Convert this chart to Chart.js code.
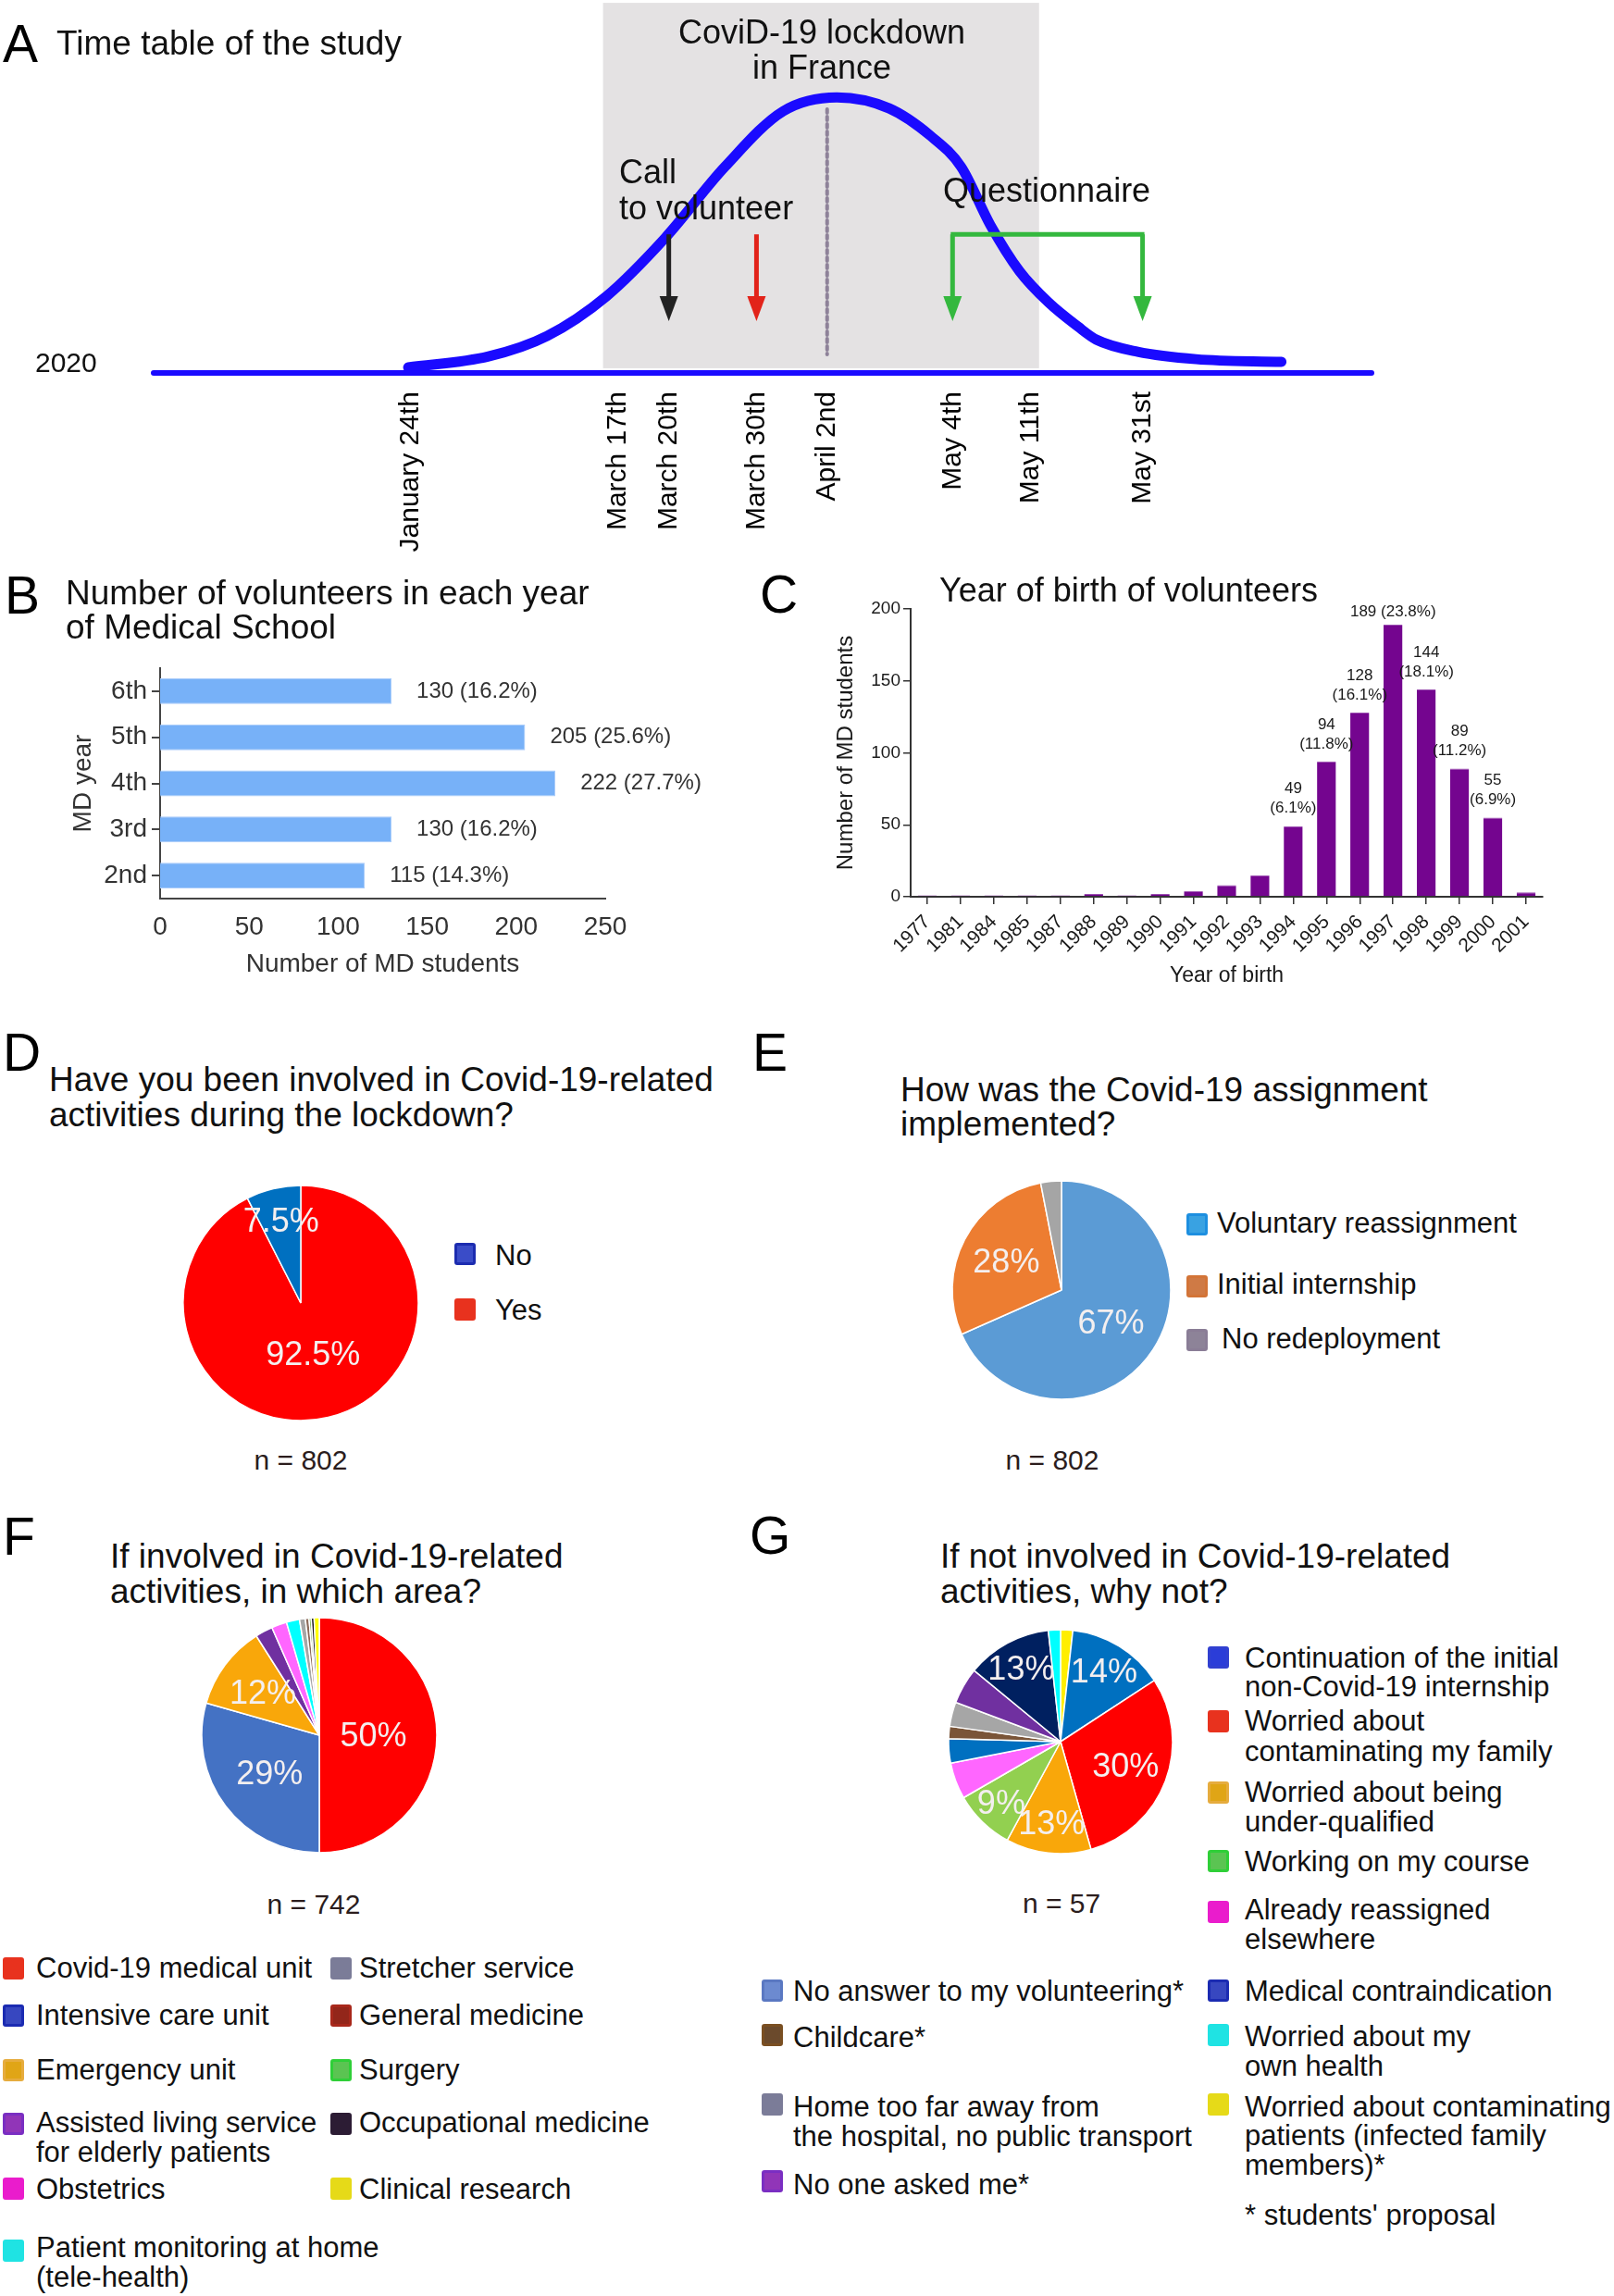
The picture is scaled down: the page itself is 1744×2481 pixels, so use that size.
<!DOCTYPE html>
<html>
<head>
<meta charset="utf-8">
<title>Covid-19 volunteers</title>
<script src="https://cdn.jsdelivr.net/npm/chart.js@4.4.1/dist/chart.umd.min.js"></script>
<style>
  html, body { margin: 0; padding: 0; background: #fff; }
  #page {
    position: relative; width: 1744px; height: 2481px; overflow: hidden;
    font-family: 'Liberation Sans', Arial, Helvetica, sans-serif; color: #111;
  }
  canvas { position: absolute; }
  .t { position: absolute; white-space: nowrap; }
  .mk { position: absolute; width: 23px; height: 24px; box-sizing: border-box; border-radius: 3px; border: 3px solid; }
</style>
</head>
<body>
<div id="page">
  <canvas id="timeline" width="1744" height="620" style="left:0;top:0"></canvas>
  <canvas id="mdYear" width="740" height="370" style="left:40px;top:700px"></canvas>
  <canvas id="birth" width="800" height="435" style="left:890px;top:640px"></canvas>
  <canvas id="pieD" width="262" height="262" style="left:194px;top:1277px"></canvas>
  <canvas id="pieE" width="242" height="242" style="left:1026px;top:1273px"></canvas>
  <canvas id="pieF" width="262" height="262" style="left:214px;top:1744px"></canvas>
  <canvas id="pieG" width="250" height="250" style="left:1021px;top:1757px"></canvas>
</div>
<script>
// ---- data ----
// A: schematic time line (x in timeline units 0-100, y = epidemic curve height)
const eventLabels = ['January 24th', 'March 17th', 'March 20th', 'March 30th', 'April 2nd', 'May 4th', 'May 11th', 'May 31st'];
const eventPos = [21.1, 38.1, 42.3, 49.5, 55.3, 65.6, 72.0, 81.2];
const lockdownSpan = [36.9, 72.7];
const curveX = [20.9, 27.5, 32.3, 37.2, 42.0, 46.9, 51.7, 56.1, 60.4, 63.8, 66.3, 68.7, 71.1, 73.5, 75.9, 77.4, 80.8, 85.6, 92.6];
const curveY = [2, 6, 13.4, 27.9, 49, 74.8, 95, 100, 96, 86, 74.8, 53.7, 36.9, 25.5, 16.8, 12.1, 7.7, 5, 4];

// B: volunteers per MD year
const mdYears = ['6th', '5th', '4th', '3rd', '2nd'];
const mdCounts = [130, 205, 222, 130, 115];
const mdShares = ['16.2%', '25.6%', '27.7%', '16.2%', '14.3%'];

// C: year of birth
const birthYears = ['1977', '1981', '1984', '1985', '1987', '1988', '1989', '1990', '1991', '1992', '1993',
  '1994', '1995', '1996', '1997', '1998', '1999', '2000', '2001'];
const birthCounts = [1, 1, 1, 1, 1, 2, 1, 2, 4, 8, 15, 49, 94, 128, 189, 144, 89, 55, 3];
const birthShares = [null, null, null, null, null, null, null, null, null, null, null,
  '6.1%', '11.8%', '16.1%', '23.8%', '18.1%', '11.2%', '6.9%', null];

// D: involved in Covid-19 activities
const involvedLabels = ['Yes', 'No'];
const involvedShares = [92.5, 7.5];
const involvedTags = ['92.5%', '7.5%'];

// E: how the assignment was implemented
const assignLabels = ['Voluntary reassignment', 'Initial internship', 'No redeployment'];
const assignShares = [67, 28, 3];
const assignTags = ['67%', '28%', ''];

// F: area of involvement (n = 742)
const areaLabels = ['Covid-19 medical unit', 'Intensive care unit', 'Emergency unit', 'Assisted living service for elderly patients',
  'Obstetrics', 'Patient monitoring at home (tele-health)', 'Stretcher service', 'General medicine', 'Surgery',
  'Occupational medicine', 'Clinical research'];
const areaShares = [50, 29.4, 11.6, 2.4, 2.1, 1.8, 0.8, 0.5, 0.3, 0.4, 0.7];
const areaTags = ['50%', '29%', '12%', '', '', '', '', '', '', '', ''];

// G: reasons for not being involved (n = 57), clockwise from the top
const reasonLabels = ['Worried about contaminating patients', 'Continuation of the initial non-Covid-19 internship',
  'Worried about contaminating my family', 'Worried about being under-qualified', 'Working on my course',
  'Already reassigned elsewhere', 'No answer to my volunteering', 'Childcare', 'Home too far away from the hospital',
  'No one asked me', 'Medical contraindication', 'Worried about my own health'];
const reasonCounts = [1, 8, 17, 7, 5, 3, 2, 1, 2, 3, 7, 1];
const reasonTags = ['', '14%', '30%', '13%', '9%', '', '', '', '', '', '13%', ''];

// ---- setup ----
const FONT = "'Liberation Sans', Arial, Helvetica, sans-serif";
Chart.defaults.font.family = FONT;
Chart.defaults.color = '#222';
const page = document.getElementById('page');

function addText(html, x, baseline, size, opts = {}) {
  const lh = opts.lh || Math.round(size * 1.1);
  const el = document.createElement('div');
  el.className = 't';
  el.innerHTML = html;
  el.style.fontSize = size + 'px';
  el.style.lineHeight = lh + 'px';
  el.style.top = (baseline - (lh / 2 + 0.3465 * size)) + 'px';
  if (opts.center) {
    el.style.left = (x - 300) + 'px';
    el.style.width = '600px';
    el.style.textAlign = 'center';
  } else {
    el.style.left = x + 'px';
  }
  el.style.color = opts.color || '#111';
  page.appendChild(el);
}

function addMarker(x, yc, border, fill) {
  const el = document.createElement('div');
  el.className = 'mk';
  el.style.left = x + 'px';
  el.style.top = (yc - 12) + 'px';
  el.style.borderColor = border;
  el.style.background = fill;
  page.appendChild(el);
}

// ---- A: time table ----
const BLUE = '#1a0aff';
const timelineDecor = {
  id: 'timelineDecor',
  beforeDatasetsDraw(chart) {
    const { ctx, scales: { x, y } } = chart;
    ctx.save();
    ctx.fillStyle = '#e4e2e3';
    const x0 = x.getPixelForValue(lockdownSpan[0]);
    const x1 = x.getPixelForValue(lockdownSpan[1]);
    const yTop = y.getPixelForValue(134.3);
    const yBot = y.getPixelForValue(1.7);
    ctx.fillRect(x0, yTop, x1 - x0, yBot - yTop);
    // April 2nd dotted marker
    const xa = x.getPixelForValue(eventPos[4]);
    ctx.strokeStyle = '#8e8299';
    ctx.lineWidth = 4;
    ctx.lineCap = 'round';
    ctx.setLineDash([4, 4]);
    ctx.beginPath();
    ctx.moveTo(xa, y.getPixelForValue(95.7));
    ctx.lineTo(xa, y.getPixelForValue(6.7));
    ctx.stroke();
    ctx.restore();
  },
  afterDatasetsDraw(chart) {
    const { ctx, scales: { x, y } } = chart;
    const yStart = y.getPixelForValue(50.3);
    const yTip = y.getPixelForValue(18.8);
    function arrow(pos, color) {
      const px = x.getPixelForValue(pos);
      ctx.strokeStyle = color;
      ctx.fillStyle = color;
      ctx.lineWidth = 5;
      ctx.beginPath();
      ctx.moveTo(px, yStart);
      ctx.lineTo(px, yTip - 20);
      ctx.stroke();
      ctx.beginPath();
      ctx.moveTo(px - 10, yTip - 27);
      ctx.lineTo(px + 10, yTip - 27);
      ctx.lineTo(px, yTip);
      ctx.closePath();
      ctx.fill();
    }
    ctx.save();
    ctx.lineCap = 'butt';
    arrow(eventPos[2], '#222');
    arrow(eventPos[3], '#e2231a');
    arrow(eventPos[5], '#34b83e');
    arrow(eventPos[7], '#34b83e');
    ctx.strokeStyle = '#34b83e';
    ctx.lineWidth = 5;
    ctx.beginPath();
    ctx.moveTo(x.getPixelForValue(eventPos[5]) - 2, yStart);
    ctx.lineTo(x.getPixelForValue(eventPos[7]) + 2, yStart);
    ctx.stroke();
    ctx.restore();
  }
};

new Chart(document.getElementById('timeline'), {
  type: 'line',
  data: {
    datasets: [
      { data: [{ x: 0, y: 0 }, { x: 100, y: 0 }], borderColor: BLUE, borderWidth: 6, pointRadius: 0,
        borderCapStyle: 'round', clip: false },
      { data: curveX.map((v, i) => ({ x: v, y: curveY[i] })), borderColor: BLUE, borderWidth: 11, pointRadius: 0,
        cubicInterpolationMode: 'monotone', borderCapStyle: 'round', clip: false }
    ]
  },
  options: {
    responsive: false, animation: false, devicePixelRatio: 1,
    layout: { padding: { left: 166, right: 262, top: 1, bottom: 0 } },
    plugins: { legend: { display: false }, tooltip: { enabled: false } },
    scales: {
      x: {
        type: 'linear', min: 0, max: 100,
        afterBuildTicks: s => { s.ticks = eventPos.map(v => ({ value: v })); },
        afterFit: s => { s.height = 217; },
        grid: { display: false, drawTicks: false },
        border: { display: false },
        ticks: { autoSkip: false, minRotation: 90, maxRotation: 90, padding: 20, color: '#000',
          font: { size: 30 }, callback: (v, i) => eventLabels[i] }
      },
      y: { type: 'linear', min: 0, max: 135, display: false }
    }
  },
  plugins: [timelineDecor]
});

// ---- B: MD year ----
const mdValueLabels = {
  id: 'mdValueLabels',
  afterDatasetsDraw(chart) {
    const ctx = chart.ctx;
    ctx.save();
    ctx.font = '24px ' + FONT;
    ctx.fillStyle = '#333';
    ctx.textAlign = 'left';
    ctx.textBaseline = 'middle';
    chart.getDatasetMeta(0).data.forEach((bar, i) => {
      ctx.fillText(mdCounts[i] + ' (' + mdShares[i] + ')', bar.x + 27, bar.y);
    });
    ctx.restore();
  }
};

new Chart(document.getElementById('mdYear'), {
  type: 'bar',
  data: {
    labels: mdYears,
    datasets: [{ data: mdCounts, backgroundColor: '#77b1f8', borderColor: '#a8cbfa', borderWidth: 1,
      barPercentage: 0.56, categoryPercentage: 1 }]
  },
  options: {
    indexAxis: 'y', responsive: false, animation: false, devicePixelRatio: 1,
    layout: { padding: { top: 22, right: 126, left: 0, bottom: 0 } },
    plugins: { legend: { display: false }, tooltip: { enabled: false } },
    scales: {
      x: {
        min: 0, max: 250,
        afterFit: s => { s.height = 99; },
        ticks: { stepSize: 50, padding: 14, color: '#333', font: { size: 28 } },
        grid: { display: false, drawTicks: false },
        border: { display: true, color: '#444', width: 2 },
        title: { display: true, text: 'Number of MD students', color: '#333',
          font: { size: 28, lineHeight: 1 }, padding: { top: 0, bottom: 14 } }
      },
      y: {
        afterFit: s => { s.width = 133; },
        ticks: { padding: 5, color: '#333', font: { size: 28 } },
        grid: { drawOnChartArea: false, offset: false, tickLength: 9, color: '#444', lineWidth: 2 },
        border: { display: true, color: '#444', width: 2 },
        title: { display: true, text: 'MD year', color: '#333',
          font: { size: 28, lineHeight: 1 }, padding: { top: 36, bottom: 0 } }
      }
    }
  },
  plugins: [mdValueLabels]
});

// ---- C: year of birth ----
const birthLabels = {
  id: 'birthLabels',
  afterDatasetsDraw(chart) {
    const ctx = chart.ctx;
    const maxCount = Math.max(...birthCounts);
    ctx.save();
    ctx.font = '17px ' + FONT;
    ctx.fillStyle = '#1a1a1a';
    ctx.textAlign = 'center';
    ctx.textBaseline = 'middle';
    chart.getDatasetMeta(0).data.forEach((bar, i) => {
      if (!birthShares[i]) return;
      if (birthCounts[i] === maxCount) {
        ctx.fillText(birthCounts[i] + ' (' + birthShares[i] + ')', bar.x, bar.y - 14);
      } else {
        ctx.fillText(String(birthCounts[i]), bar.x, bar.y - 40);
        ctx.fillText('(' + birthShares[i] + ')', bar.x, bar.y - 19);
      }
    });
    ctx.restore();
  }
};

new Chart(document.getElementById('birth'), {
  type: 'bar',
  data: {
    labels: birthYears,
    datasets: [{ data: birthCounts, backgroundColor: '#74058f', borderColor: '#9a4fb0', borderWidth: { top: 1 },
      barPercentage: 0.57, categoryPercentage: 1 }]
  },
  options: {
    responsive: false, animation: false, devicePixelRatio: 1,
    layout: { padding: { top: 18, right: 23, left: 0, bottom: 0 } },
    plugins: { legend: { display: false }, tooltip: { enabled: false } },
    scales: {
      x: {
        afterFit: s => { s.height = 106; },
        ticks: { autoSkip: false, minRotation: 45, maxRotation: 45, padding: 7, color: '#1a1a1a', font: { size: 21 } },
        grid: { drawOnChartArea: false, offset: false, tickLength: 8, color: '#333', lineWidth: 1.5 },
        border: { display: true, color: '#333', width: 2 },
        title: { display: true, text: 'Year of birth', color: '#1a1a1a',
          font: { size: 23, lineHeight: 1 }, padding: { top: 0, bottom: 9 } }
      },
      y: {
        min: 0, max: 200,
        afterFit: s => { s.width = 94; },
        ticks: { stepSize: 50, padding: 3, color: '#1a1a1a', font: { size: 19 } },
        grid: { drawOnChartArea: false, tickLength: 8, color: '#333', lineWidth: 1.5 },
        border: { display: true, color: '#333', width: 2 },
        title: { display: true, text: 'Number of MD students', color: '#1a1a1a',
          font: { size: 24, lineHeight: 1 }, padding: { top: 12, bottom: 0 } }
      }
    }
  },
  plugins: [birthLabels]
});

// ---- pies ----
// factors: how far out along each slice's mid-angle its tag sits (fraction of the radius)
function pieTags(tags, factors) {
  return {
    id: 'pieTags',
    afterDatasetsDraw(chart) {
      const ctx = chart.ctx;
      ctx.save();
      ctx.font = '36px ' + FONT;
      ctx.fillStyle = '#f4efef';
      ctx.textAlign = 'center';
      ctx.textBaseline = 'middle';
      chart.getDatasetMeta(0).data.forEach((arc, i) => {
        if (!tags[i]) return;
        const p = arc.getProps(['x', 'y', 'startAngle', 'endAngle', 'outerRadius']);
        const a = (p.startAngle + p.endAngle) / 2;
        const r = p.outerRadius * (factors[i] || 0.6);
        ctx.fillText(tags[i], p.x + Math.cos(a) * r, p.y + Math.sin(a) * r + 2);
      });
      ctx.restore();
    }
  };
}

function makePie(id, labels, values, colors, radius, tags, factors) {
  return new Chart(document.getElementById(id), {
    type: 'pie',
    data: { labels: labels, datasets: [{ data: values, backgroundColor: colors, borderColor: '#fff',
      borderWidth: 1.5, radius: radius }] },
    options: {
      responsive: false, animation: false, devicePixelRatio: 1,
      layout: { padding: 0 },
      plugins: { legend: { display: false }, tooltip: { enabled: false } }
    },
    plugins: [pieTags(tags, factors)]
  });
}

makePie('pieD', involvedLabels, involvedShares, ['#ff0000', '#0070c0'], 127, involvedTags, [0.45, 0.72]);
makePie('pieE', assignLabels, assignShares, ['#5b9bd5', '#ed7d31', '#a5a5a5'], 118, assignTags, [0.54, 0.57]);
makePie('pieF', areaLabels, areaShares,
  ['#ff0000', '#4472c4', '#f9a70a', '#7030a0', '#ff66ff', '#00ffff', '#a6a6a6', '#8c6a5a', '#70ad47', '#1a1a1a', '#ffff00'],
  127, areaTags, [0.46, 0.53, 0.6]);
makePie('pieG', reasonLabels, reasonCounts,
  ['#ffee00', '#0070c0', '#ff0000', '#f9a70a', '#92d050', '#ff66ff', '#0070c0', '#7a5538', '#a6a6a6', '#7030a0', '#002060', '#00ffff'],
  121, reasonTags, [0, 0.74, 0.62, 0.73, 0.76, 0, 0, 0, 0, 0, 0.74, 0]);

// ---- panel letters, titles, annotations ----
addText('A', 3, 67, 57, { color: '#000' });
addText('Time table of the study', 61, 59, 37);
addText('CoviD-19 lockdown<br>in France', 888, 47, 36, { lh: 38, center: true });
addText('Call<br>to volunteer', 669, 198, 36, { lh: 39 });
addText('Questionnaire', 1019, 218, 36);
addText('2020', 38, 402, 30);

addText('B', 5, 663, 57, { color: '#000' });
addText('Number of volunteers in each year<br>of Medical School', 71, 653, 37, { lh: 37 });
addText('C', 821, 662, 57, { color: '#000' });
addText('Year of birth of volunteers', 1015, 650, 36);

addText('D', 3, 1157, 57, { color: '#000' });
addText('Have you been involved in Covid-19-related<br>activities during the lockdown?', 53, 1180, 37, { lh: 38 });
addText('n = 802', 325, 1588, 30, { center: true, color: '#2b1d1d' });
addMarker(491, 1355, '#1c2cb0', '#3a4cc8');
addText('No', 535, 1368, 31);
addMarker(491, 1415, '#e8321e', '#e8321e');
addText('Yes', 535, 1427, 31);

addText('E', 813, 1157, 57, { color: '#000' });
addText('How was the Covid-19 assignment<br>implemented?', 973, 1190, 37, { lh: 37 });
addText('n = 802', 1137, 1588, 30, { center: true, color: '#2b1d1d' });
addMarker(1282, 1323, '#1d8fe0', '#39a2e2');
addText('Voluntary reassignment', 1315, 1333, 31);
addMarker(1282, 1390, '#d37437', '#cf7a45');
addText('Initial internship', 1315, 1399, 31);
addMarker(1282, 1448, '#8a7d96', '#8d8398');
addText('No redeployment', 1320, 1458, 31);

addText('F', 3, 1680, 57, { color: '#000' });
addText('If involved in Covid-19-related<br>activities, in which area?', 119, 1695, 37, { lh: 38 });
addText('n = 742', 339, 2068, 30, { center: true, color: '#2b1d1d' });
addMarker(3, 2127, '#e8321e', '#e8321e');
addText('Covid-19 medical unit', 39, 2138, 31);
addMarker(3, 2178, '#1b2bb2', '#3747c0');
addText('Intensive care unit', 39, 2189, 31);
addMarker(3, 2237, '#e6ac3e', '#e0a516');
addText('Emergency unit', 39, 2248, 31);
addMarker(3, 2295, '#7a2ec2', '#9135b8');
addText('Assisted living service<br>for elderly patients', 39, 2305, 31, { lh: 32 });
addMarker(3, 2365, '#ea1ccc', '#ea1ccc');
addText('Obstetrics', 39, 2377, 31);
addMarker(3, 2432, '#1fe3e3', '#1fe3e3');
addText('Patient monitoring at home<br>(tele-health)', 39, 2440, 31, { lh: 32 });
addMarker(357, 2127, '#7b7c98', '#7b7c98');
addText('Stretcher service', 388, 2138, 31);
addMarker(357, 2178, '#a8281b', '#93261a');
addText('General medicine', 388, 2189, 31);
addMarker(357, 2237, '#2fcf38', '#5bc452');
addText('Surgery', 388, 2248, 31);
addMarker(357, 2295, '#2c1c34', '#2c1c34');
addText('Occupational medicine', 388, 2305, 31);
addMarker(357, 2365, '#e6da18', '#e6da18');
addText('Clinical research', 388, 2377, 31);

addText('G', 810, 1679, 57, { color: '#000' });
addText('If not involved in Covid-19-related<br>activities, why not?', 1016, 1695, 37, { lh: 38 });
addText('n = 57', 1147, 2067, 30, { center: true, color: '#2b1d1d' });
addMarker(1305, 1791, '#3140d0', '#2b3dd8');
addText('Continuation of the initial<br>non-Covid-19 internship', 1345, 1802, 31, { lh: 31 });
addMarker(1305, 1860, '#e8321e', '#e8321e');
addText('Worried about<br>contaminating my family', 1345, 1870, 31, { lh: 33 });
addMarker(1305, 1937, '#e6ac3e', '#e0a516');
addText('Worried about being<br>under-qualified', 1345, 1948, 31, { lh: 32 });
addMarker(1305, 2011, '#2fcf38', '#5bc452');
addText('Working on my course', 1345, 2023, 31);
addMarker(1305, 2066, '#ea1ccc', '#ea1ccc');
addText('Already reassigned<br>elsewhere', 1345, 2075, 31, { lh: 32 });
addMarker(823, 2151, '#5a78c2', '#6c8ad0');
addText('No answer to my volunteering*', 857, 2163, 31);
addMarker(823, 2199, '#7a4f22', '#6b4a2c');
addText('Childcare*', 857, 2213, 31);
addMarker(823, 2274, '#7b7c98', '#7b7c98');
addText('Home too far away from<br>the hospital, no public transport', 857, 2288, 31, { lh: 32 });
addMarker(823, 2357, '#7a2ec2', '#9135b8');
addText('No one asked me*', 857, 2372, 31);
addMarker(1305, 2151, '#1b2bb2', '#3747c0');
addText('Medical contraindication', 1345, 2163, 31);
addMarker(1305, 2199, '#1fe3e3', '#1fe3e3');
addText('Worried about my<br>own health', 1345, 2212, 31, { lh: 32 });
addMarker(1305, 2274, '#e6da18', '#e6da18');
addText('Worried about contaminating<br>patients (infected family<br>members)*', 1345, 2287, 31, { lh: 31.5 });
addText("* students' proposal", 1345, 2405, 31);
</script>
</body>
</html>
